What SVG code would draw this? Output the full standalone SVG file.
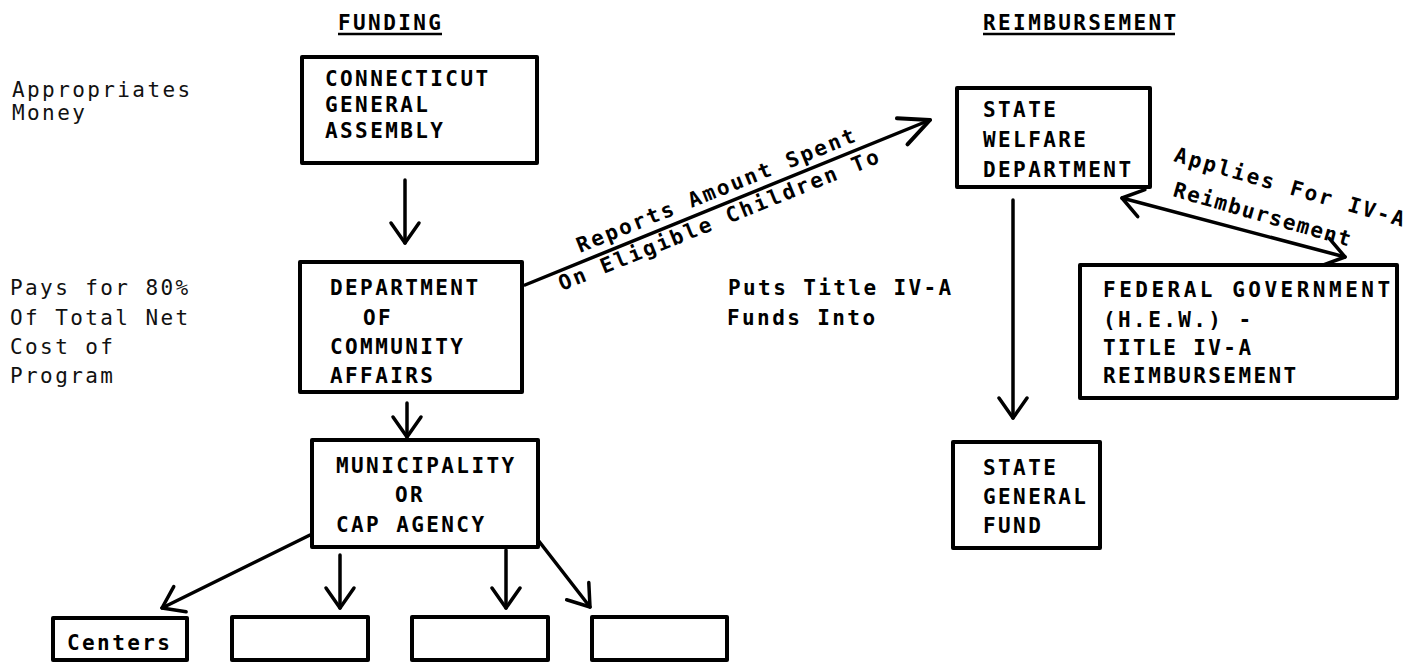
<svg xmlns="http://www.w3.org/2000/svg" width="1417" height="664" viewBox="0 0 1417 664">
<style>
text{font-family:"DejaVu Sans Mono","Liberation Mono",monospace;font-weight:bold;font-size:21px;letter-spacing:2.4px;fill:#000}
.lbl{font-weight:normal;fill:#111}
.wide{letter-spacing:3.5px}
.box{fill:#fff;stroke:#000;stroke-width:4;stroke-linejoin:round}
.ln{fill:none;stroke:#000;stroke-width:3.5;stroke-linecap:round}
</style>
<defs>
<marker id="ah" markerUnits="userSpaceOnUse" orient="auto-start-reverse" overflow="visible" markerWidth="1" markerHeight="1"><path d="M-20,-14 L0,0 L-20,14" fill="none" stroke="#000" stroke-width="3.5" stroke-linecap="round" stroke-linejoin="round"/></marker>
<marker id="ahb" markerUnits="userSpaceOnUse" orient="auto" overflow="visible" markerWidth="1" markerHeight="1"><path d="M-30,-14 L0,0 L-30,14" fill="none" stroke="#000" stroke-width="4" stroke-linecap="round" stroke-linejoin="round"/></marker>
</defs>

<g id="headers">
<text x="338" y="30">FUNDING</text>
<line x1="338" y1="34" x2="442" y2="34" stroke="#000" stroke-width="2.5"/>
<text x="983" y="30">REIMBURSEMENT</text>
<line x1="983" y1="34" x2="1175" y2="34" stroke="#000" stroke-width="2.5"/>
</g>

<g id="side-labels">
<text class="lbl" x="12" y="97">Appropriates</text>
<text class="lbl" x="12" y="120">Money</text>
<text class="lbl" x="10" y="295">Pays for 80%</text>
<text class="lbl" x="10" y="325">Of Total Net</text>
<text class="lbl" x="10" y="354">Cost of</text>
<text class="lbl" x="10" y="383">Program</text>
<text x="728" y="295">Puts Title IV-A</text>
<text x="727" y="325">Funds Into</text>
</g>

<g id="connectors">
<line class="ln" x1="405" y1="180" x2="405" y2="243" marker-end="url(#ah)"/>
<line class="ln" x1="407" y1="403" x2="407" y2="437" marker-end="url(#ah)"/>
<line class="ln" x1="525" y1="285" x2="930" y2="120" marker-end="url(#ahb)"/>
<line class="ln" x1="1013" y1="200" x2="1013" y2="418" marker-end="url(#ah)"/>
<line class="ln" x1="1122" y1="198" x2="1345" y2="257" marker-start="url(#ah)" marker-end="url(#ah)"/>
<line class="ln" x1="310" y1="535" x2="162" y2="608" marker-end="url(#ah)"/>
<line class="ln" x1="340" y1="555" x2="340" y2="608" marker-end="url(#ah)"/>
<line class="ln" x1="506" y1="550" x2="506" y2="608" marker-end="url(#ah)"/>
<line class="ln" x1="538" y1="540" x2="590" y2="607" marker-end="url(#ah)"/>
<text transform="translate(580,253) rotate(-22)">Reports Amount Spent</text>
<text transform="translate(562,291) rotate(-22)">On Eligible Children To</text>
<text transform="translate(1173,161) rotate(16)">Applies For IV-A</text>
<text transform="translate(1172,196) rotate(16)" style="letter-spacing:1.6px">Reimbursement</text>
</g>

<g id="n-assembly">
<rect class="box" x="302" y="57" width="235" height="106"/>
<text x="325" y="86">CONNECTICUT</text>
<text x="325" y="112">GENERAL</text>
<text x="325" y="138">ASSEMBLY</text>
</g>

<g id="n-dca">
<rect class="box" x="300" y="262" width="222" height="130"/>
<text x="330" y="295">DEPARTMENT</text>
<text x="363" y="325">OF</text>
<text x="330" y="354">COMMUNITY</text>
<text x="330" y="383">AFFAIRS</text>
</g>

<g id="n-municipality">
<rect class="box" x="312" y="440" width="226" height="107"/>
<text x="336" y="473">MUNICIPALITY</text>
<text x="395" y="502">OR</text>
<text x="336" y="532">CAP AGENCY</text>
</g>

<g id="n-centers">
<rect class="box" x="53" y="618" width="134" height="42"/>
<text x="67" y="650">Centers</text>
</g>
<g id="n-center2"><rect class="box" x="232" y="617" width="136" height="43"/></g>
<g id="n-center3"><rect class="box" x="412" y="617" width="136" height="43"/></g>
<g id="n-center4"><rect class="box" x="592" y="617" width="135" height="43"/></g>

<g id="n-welfare">
<rect class="box" x="957" y="88" width="193" height="99"/>
<text x="983" y="117">STATE</text>
<text x="983" y="147">WELFARE</text>
<text x="983" y="177">DEPARTMENT</text>
</g>

<g id="n-federal">
<rect class="box" x="1080" y="265" width="317" height="133"/>
<text class="wide" x="1103" y="297">FEDERAL GOVERNMENT</text>
<text x="1103" y="327">(H.E.W.) -</text>
<text x="1103" y="355">TITLE IV-A</text>
<text x="1103" y="383">REIMBURSEMENT</text>
</g>

<g id="n-generalfund">
<rect class="box" x="953" y="442" width="147" height="106"/>
<text x="983" y="475">STATE</text>
<text x="983" y="504">GENERAL</text>
<text x="983" y="533">FUND</text>
</g>
</svg>
